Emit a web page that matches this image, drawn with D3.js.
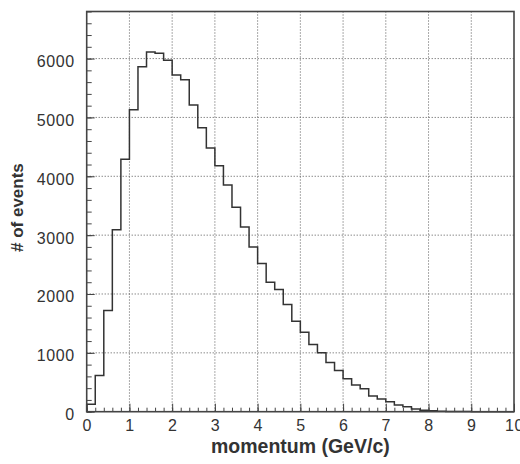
<!DOCTYPE html>
<html>
<head>
<meta charset="utf-8">
<script src="https://cdn.jsdelivr.net/npm/d3@7"></script>
<style>
  body { margin: 0; background: #fff; }
  svg { display: block; }
  .tick text { font-family: "Liberation Sans", Arial, sans-serif; fill: #333; }
  .title { font-family: "Liberation Sans", Arial, sans-serif; font-weight: bold; fill: #333; }
</style>
</head>
<body>
<svg width="520" height="464"></svg>
<script>
// histogram: bin lower edges (GeV/c) and counts
const binEdges = [
  0.0, 0.2, 0.4, 0.6, 0.8, 1.0, 1.2, 1.4, 1.6, 1.8,
  2.0, 2.2, 2.4, 2.6, 2.8, 3.0, 3.2, 3.4, 3.6, 3.8,
  4.0, 4.2, 4.4, 4.6, 4.8, 5.0, 5.2, 5.4, 5.6, 5.8,
  6.0, 6.2, 6.4, 6.6, 6.8, 7.0, 7.2, 7.4, 7.6, 7.8,
  8.0, 8.2, 8.4, 8.6, 8.8, 9.0, 9.2, 9.4, 9.6, 9.8
];
const counts = [
  125, 615, 1720, 3090, 4290, 5130, 5860, 6110, 6090, 5970,
  5720, 5640, 5210, 4825, 4480, 4180, 3850, 3475, 3140, 2800,
  2520, 2200, 2075, 1820, 1535, 1350, 1140, 1000, 835, 700,
  560, 455, 390, 265, 215, 170, 112, 82, 48, 25,
  15, 9, 5, 3, 2, 1, 1, 0, 0, 0
];
const binWidth = 0.2;

const xTicks = [0, 1, 2, 3, 4, 5, 6, 7, 8, 9, 10];
const yTicks = [0, 1000, 2000, 3000, 4000, 5000, 6000];

const margin = { left: 86.7, right: 6, top: 11.5, bottom: 52.3 };
const width = 520 - margin.left - margin.right;
const height = 464 - margin.top - margin.bottom;

const svg = d3.select('svg');
const g = svg.append('g').attr('transform', `translate(${margin.left},${margin.top})`);

const x = d3.scaleLinear().domain([0, 10]).range([0, width]);
const y = d3.scaleLinear().domain([0, 6800]).range([height, 0]);

// grid lines
g.append('g').selectAll('line')
  .data(xTicks.slice(1, -1))
  .enter().append('line')
  .attr('x1', d => x(d)).attr('x2', d => x(d))
  .attr('y1', 0).attr('y2', height)
  .attr('stroke', '#555').attr('stroke-width', 1)
  .attr('stroke-dasharray', '1,2');

g.append('g').selectAll('line')
  .data(yTicks.slice(1))
  .enter().append('line')
  .attr('x1', 0).attr('x2', width)
  .attr('y1', d => y(d)).attr('y2', d => y(d))
  .attr('stroke', '#555').attr('stroke-width', 1)
  .attr('stroke-dasharray', '1,2');

// minor ticks
const xMinor = d3.range(0, 10.001, 0.2).map(v => +v.toFixed(1));
const yMinor = d3.range(0, 6801, 200);

g.append('g')
  .attr('transform', `translate(0,${height})`)
  .call(d3.axisBottom(x).tickValues(xMinor).tickSize(-4).tickFormat(''))
  .call(a => a.select('.domain').remove())
  .call(a => a.selectAll('line').attr('stroke', '#444'));

g.append('g')
  .call(d3.axisLeft(y).tickValues(yMinor).tickSize(-5).tickFormat(''))
  .call(a => a.select('.domain').remove())
  .call(a => a.selectAll('line').attr('stroke', '#444'));

// major ticks with labels
g.append('g')
  .attr('transform', `translate(0,${height})`)
  .call(d3.axisBottom(x).tickValues(xTicks).tickSize(-8).tickPadding(8).tickFormat(d3.format('d')))
  .call(a => a.select('.domain').remove())
  .call(a => a.selectAll('line').attr('stroke', '#444'))
  .call(a => a.selectAll('text').attr('font-size', 16).attr('letter-spacing', 0.5));

g.append('g')
  .call(d3.axisLeft(y).tickValues(yTicks).tickSize(-8).tickPadding(12).tickFormat(d3.format('d')))
  .call(a => a.select('.domain').remove())
  .call(a => a.selectAll('line').attr('stroke', '#444'))
  .call(a => a.selectAll('text').attr('font-size', 16).attr('letter-spacing', 0.6).attr('dy', '0.5em'));

// histogram outline
const pts = [[0, 0]];
binEdges.forEach((e, i) => {
  pts.push([e, counts[i]]);
  pts.push([e + binWidth, counts[i]]);
});
pts.push([10, 0]);

g.append('path')
  .datum(pts)
  .attr('fill', 'none')
  .attr('stroke', '#333')
  .attr('stroke-width', 1.5)
  .attr('d', d3.line().x(d => x(d[0])).y(d => y(d[1])));

// frame
g.append('rect')
  .attr('width', width).attr('height', height)
  .attr('fill', 'none')
  .attr('stroke', '#444')
  .attr('stroke-width', 1.6);

// axis titles
svg.append('text')
  .attr('class', 'title')
  .attr('x', margin.left + width / 2)
  .attr('y', 453)
  .attr('text-anchor', 'middle')
  .attr('font-size', 19.5)
  .text('momentum (GeV/c)');

svg.append('text')
  .attr('class', 'title')
  .attr('transform', `translate(23,${margin.top + height / 2 - 4}) rotate(-90)`)
  .attr('text-anchor', 'middle')
  .attr('font-size', 17)
  .text('# of events');
</script>
</body>
</html>
